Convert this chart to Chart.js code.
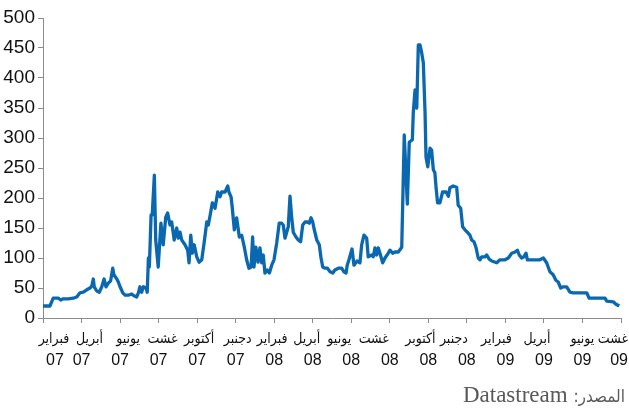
<!DOCTYPE html>
<html>
<head>
<meta charset="utf-8">
<script src="https://cdn.jsdelivr.net/npm/chart.js@4.4.1/dist/chart.umd.min.js"></script>
<style>
html,body{margin:0;padding:0;background:#fff;}
#wrap{position:relative;width:629px;height:408px;}
#src{position:absolute;right:4px;top:383px;font-family:"Liberation Serif","DejaVu Serif",serif;font-size:23px;line-height:23px;color:#595959;white-space:nowrap;}
#src .ar{font-family:"DejaVu Sans Condensed","DejaVu Sans",sans-serif;font-size:17px;}
</style>
</head>
<body>
<div id="wrap">
<canvas id="c" width="629" height="408"></canvas>
<div id="src" dir="rtl"><span class="ar">المصدر:</span> <span dir="ltr">Datastream</span></div>
</div>
<script>
// months since February 2007 (fractional)
const months = [0,0.36,0.45,0.53,0.79,0.92,1.05,1.31,1.57,1.75,1.92,2.09,2.27,2.44,2.53,2.61,2.66,2.79,2.92,3.05,3.17,3.27,3.39,3.51,3.62,3.68,3.83,3.91,4.00,4.14,4.26,4.43,4.60,4.72,4.86,4.95,5.03,5.12,5.21,5.35,5.41,5.47,5.52,5.61,5.67,5.78,5.85,5.98,6.12,6.24,6.37,6.47,6.59,6.68,6.81,6.94,7.02,7.11,7.20,7.37,7.51,7.58,7.67,7.75,7.85,7.98,8.10,8.24,8.37,8.50,8.58,8.68,8.79,8.93,9.07,9.19,9.27,9.45,9.59,9.65,9.76,9.82,9.93,10.05,10.19,10.31,10.45,10.57,10.69,10.80,10.88,10.95,11.05,11.16,11.26,11.35,11.43,11.52,11.64,11.75,11.87,11.99,12.13,12.26,12.39,12.47,12.56,12.65,12.73,12.82,12.91,12.99,13.13,13.25,13.37,13.48,13.60,13.72,13.82,13.91,14.00,14.06,14.21,14.34,14.43,14.52,14.64,14.76,14.90,15.04,15.15,15.33,15.50,15.62,15.73,15.79,15.88,16.04,16.14,16.30,16.45,16.54,16.66,16.80,16.88,17.06,17.14,17.23,17.32,17.40,17.49,17.63,17.75,17.92,18.01,18.15,18.27,18.44,18.62,18.75,18.91,19.01,19.17,19.22,19.31,19.40,19.48,19.57,19.65,19.74,19.83,19.88,19.97,20.09,20.17,20.26,20.34,20.40,20.48,20.60,20.74,20.92,21.04,21.12,21.29,21.47,21.55,21.68,21.78,21.90,22.02,22.16,22.25,22.37,22.47,22.59,22.68,22.77,22.94,23.03,23.16,23.29,23.55,23.72,23.98,24.15,24.33,24.50,24.62,24.72,24.84,24.96,25.07,25.14,25.45,25.79,25.97,26.14,26.31,26.48,26.62,26.74,26.87,27.00,27.18,27.35,27.52,28.22,28.35,29.17,29.26,29.60,29.74,29.91];
const spread = [20,20,27,33,33,30,32,32,33,35,42,43,47,50,53,65,52,45,43,52,65,52,58,62,83,72,65,60,52,42,38,38,40,37,35,42,52,43,52,50,43,100,85,172,172,238,130,85,158,122,168,175,155,160,130,150,133,143,130,122,113,92,138,108,122,102,93,97,127,160,155,172,192,183,210,202,210,210,220,210,202,185,147,167,135,138,118,97,83,85,135,85,118,93,117,92,105,75,80,75,88,97,125,158,158,155,133,143,152,203,167,143,135,130,127,155,160,160,158,167,160,150,130,122,100,85,83,83,77,75,80,83,83,77,75,88,97,115,88,95,92,122,138,133,102,105,102,117,105,117,108,92,100,108,113,108,110,110,118,305,190,293,297,343,380,350,455,455,443,425,342,268,252,283,280,247,242,218,192,192,210,210,203,217,220,218,188,183,152,147,143,138,130,127,118,100,97,102,102,105,98,95,92,97,97,100,108,110,113,105,100,102,108,97,97,97,100,92,77,72,63,60,50,52,52,43,42,42,33,33,28,27,23,20];
const tickMonths = [0,2,4,6,8,10,12,14,16,18,20,22,24,26,28,30];
const monthNames = ["فبراير","أبريل","يونيو","غشت","أكتوبر","دجنبر","فبراير","أبريل","يونيو","غشت","أكتوبر","دجنبر","فبراير","أبريل","يونيو","غشت"];
const yearLabels = ["07","07","07","07","07","07","08","08","08","08","08","08","09","09","09","09"];
const yTicks = [0,50,100,150,200,250,300,350,400,450,500];

const points = months.map((m,i)=>({x:m,y:spread[i]}));
const narrow = "'Liberation Sans Narrow','Liberation Sans',sans-serif";
const cond = "'DejaVu Sans Condensed','DejaVu Sans',sans-serif";

// label placement tweaks (style only): the original sets its Arabic month words slightly off the ticks
const labelShift = {
  x: [11,8,8,4,2,2,-2,-6,-12,-16,-8,-13,-9,-7,0,null],
  x2:[12,0,0,0,0,0,0,0,0,0,0,0,0,0,0,null]
};
const edgeLabels = {
  id:'edgeLabels',
  beforeDraw(chart){
    ['x','x2'].forEach(id=>{
      const items = chart.scales[id].getLabelItems();
      items.forEach((it,i)=>{
        if(it._adj) return;
        const s = labelShift[id][i];
        if(s === null){ it.options.translation[0] = chart.width - 1; it.options.textAlign = 'right'; }
        else if(s){ it.options.translation[0] += s; }
        it._adj = true;
      });
    });
  }
};

new Chart(document.getElementById('c'), {
  type:'line',
  data:{datasets:[{data:points,borderColor:'#0a68b0',borderWidth:3.3,pointRadius:0,tension:0,fill:false,borderJoinStyle:'round'}]},
  options:{
    responsive:false,animation:false,
    layout:{padding:{top:18,right:8,left:0,bottom:0}},
    plugins:{legend:{display:false},tooltip:{enabled:false}},
    scales:{
      x:{type:'linear',min:0,max:30,position:'bottom',
        afterBuildTicks:s=>{s.ticks=tickMonths.map(v=>({value:v}));},
        afterFit:s=>{s.height=30;s.paddingLeft=0;s.paddingRight=0;},
        grid:{drawOnChartArea:false,drawTicks:true,tickLength:5,color:'#8c8c8c'},
        border:{color:'#8c8c8c',width:1},
        ticks:{autoSkip:false,maxRotation:0,padding:8,color:'#111',
          font:{family:cond,size:14,lineHeight:1.2},
          callback:(v,i)=>monthNames[i]}
      },
      x2:{type:'linear',min:0,max:30,position:'bottom',
        afterBuildTicks:s=>{s.ticks=tickMonths.map(v=>({value:v}));},
        afterFit:s=>{s.height=60;s.paddingLeft=0;s.paddingRight=0;},
        grid:{display:false,drawTicks:false},
        border:{display:false},
        ticks:{autoSkip:false,maxRotation:0,padding:3,color:'#111',
          font:{family:narrow,size:16,lineHeight:1.2},
          callback:(v,i)=>yearLabels[i]}
      },
      y:{min:0,max:500,
        afterBuildTicks:s=>{s.ticks=yTicks.map(v=>({value:v}));},
        afterFit:s=>{s.width=43;s.paddingTop=0;s.paddingBottom=0;},
        grid:{drawOnChartArea:false,drawTicks:true,tickLength:5,color:'#8c8c8c'},
        border:{color:'#8c8c8c',width:1},
        ticks:{padding:3,color:'#111',font:{family:narrow,size:19}}
      }
    }
  },
  plugins:[edgeLabels]
});
</script>
</body>
</html>
